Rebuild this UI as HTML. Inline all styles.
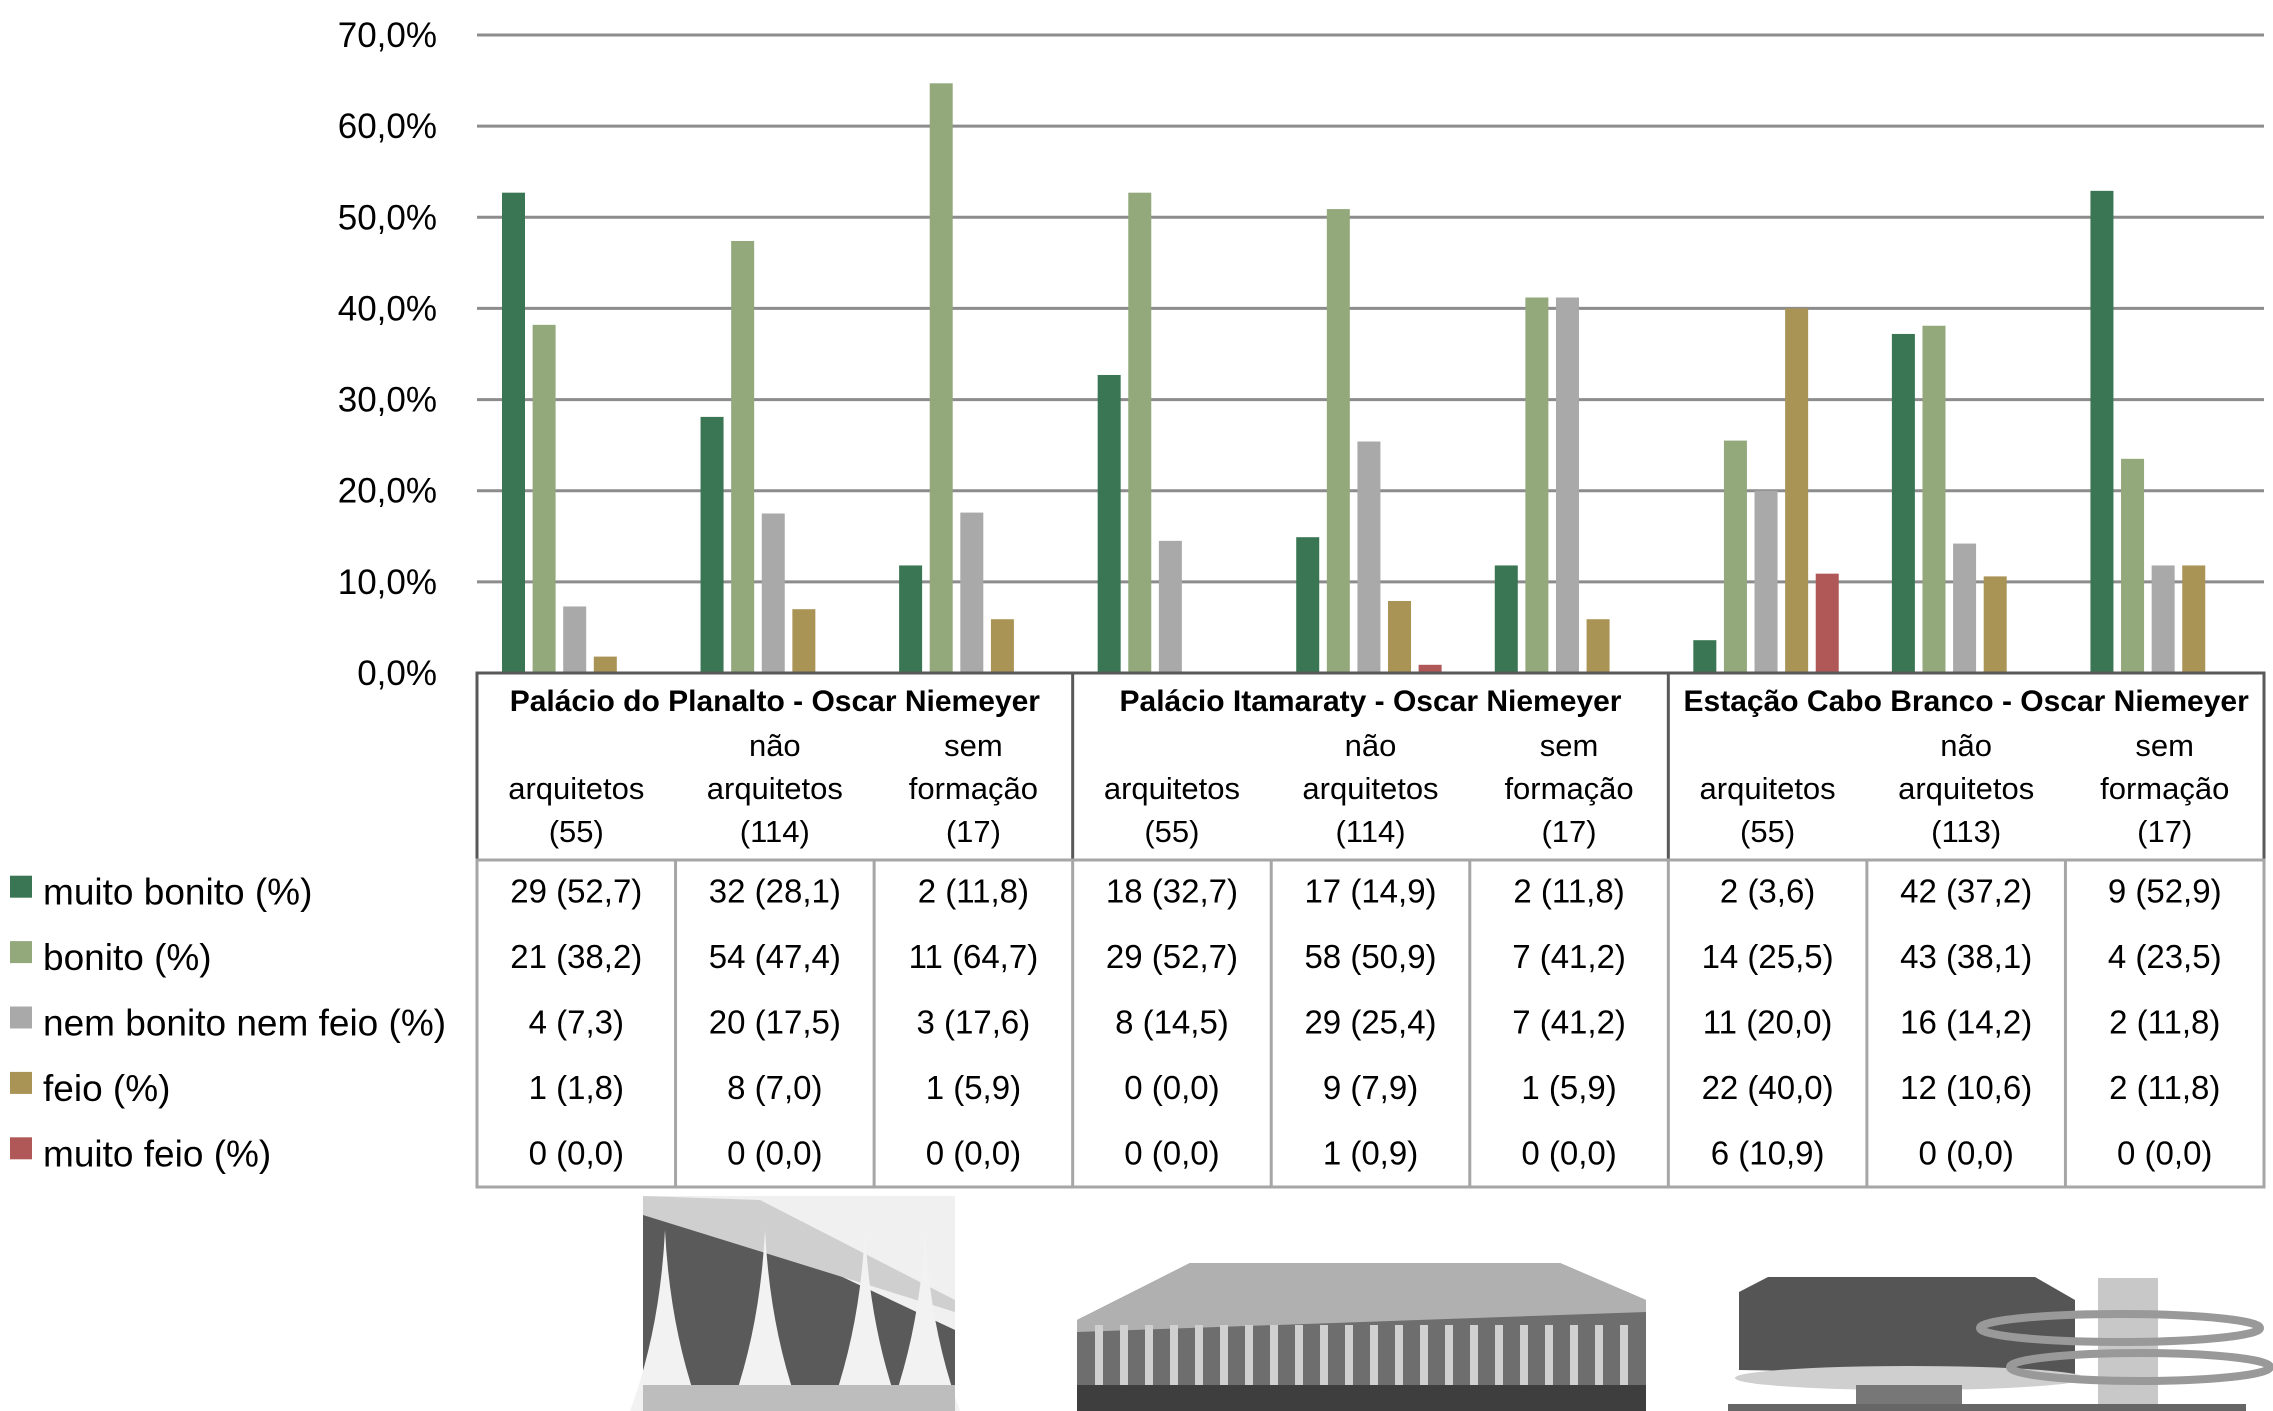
<!DOCTYPE html>
<html><head><meta charset="utf-8"><style>
body{margin:0;background:#fff;width:2273px;height:1411px;overflow:hidden;font-family:"Liberation Sans",sans-serif}
svg{display:block}
</style></head><body>
<svg id="c" width="2273" height="1411" xmlns="http://www.w3.org/2000/svg"></svg>
<script>
const groups=["Palácio do Planalto - Oscar Niemeyer","Palácio Itamaraty - Oscar Niemeyer","Estação Cabo Branco - Oscar Niemeyer"];
const subLabels=[["","arquitetos","(55)"],["não","arquitetos","(114)"],["sem","formação","(17)"],["","arquitetos","(55)"],["não","arquitetos","(114)"],["sem","formação","(17)"],["","arquitetos","(55)"],["não","arquitetos","(113)"],["sem","formação","(17)"]];
const seriesNames=["muito bonito (%)","bonito (%)","nem bonito nem feio (%)","feio (%)","muito feio (%)"];
const seriesColors=["#3b7654","#93a97b","#a9a9a9","#a99355","#b05757"];
const counts=[[29,32,2,18,17,2,2,42,9],[21,54,11,29,58,7,14,43,4],[4,20,3,8,29,7,11,16,2],[1,8,1,0,9,1,22,12,2],[0,0,0,0,1,0,6,0,0]];
const pct=[[52.7,28.1,11.8,32.7,14.9,11.8,3.6,37.2,52.9],[38.2,47.4,64.7,52.7,50.9,41.2,25.5,38.1,23.5],[7.3,17.5,17.6,14.5,25.4,41.2,20.0,14.2,11.8],[1.8,7.0,5.9,0.0,7.9,5.9,40.0,10.6,11.8],[0.0,0.0,0.0,0.0,0.9,0.0,10.9,0.0,0.0]];
const yTicks=[0,10,20,30,40,50,60,70];

const svg=document.getElementById('c');const NS="http://www.w3.org/2000/svg";
function mk(t,a,p){const e=document.createElementNS(NS,t);for(const k in a)e.setAttribute(k,a[k]);(p||svg).appendChild(e);return e;}
const L=477,R=2264,Y0=673,Y70=35,colW=(R-L)/9;
const y=v=>Y0-(Y0-Y70)*v/70;
const cx=i=>L+i*colW;
yTicks.forEach(t=>{
 if(t>0){const g=mk('line',{x1:L,x2:R,y1:y(t),y2:y(t),stroke:'#8c8c8c','stroke-width':3});
 }
 const tx=mk('text',{x:437,y:y(t)+12,'font-size':35,'text-anchor':'end',fill:'#000'});tx.textContent=t.toFixed(1).replace('.',',')+'%';
 
});
pct.forEach((s,si)=>s.forEach((v,ci)=>{
 if(v<=0)return;
 const b=mk('rect',{x:cx(ci)+25+si*30.6,y:y(v),width:23,height:Y0-y(v),fill:seriesColors[si]});
 
}));
const HT=673,HB=860,TB=1187;
mk('rect',{x:L,y:HT,width:R-L,height:HB-HT,fill:'none',stroke:'#595959','stroke-width':3});
[3,6].forEach(i=>mk('line',{x1:cx(i),x2:cx(i),y1:HT,y2:HB,stroke:'#595959','stroke-width':3}));
groups.forEach((g,gi)=>{const t=mk('text',{x:cx(gi*3)+colW*1.5,y:HT+38,'font-size':30,'font-weight':'bold','text-anchor':'middle'});t.textContent=g;
 });
subLabels.forEach((sl,ci)=>sl.forEach((s,li)=>{if(!s)return;const t=mk('text',{x:cx(ci)+colW/2,y:HT+83+li*43,'font-size':31,'text-anchor':'middle'});t.textContent=s;
 }));
mk('rect',{x:L,y:HB,width:R-L,height:TB-HB,fill:'none',stroke:'#a6a6a6','stroke-width':3});
for(let i=1;i<9;i++)mk('line',{x1:cx(i),x2:cx(i),y1:HB,y2:TB,stroke:'#a6a6a6','stroke-width':3});
const rowH=(TB-HB)/5;
counts.forEach((row,si)=>{
 const yc=HB+rowH*(si+0.5)+10;
 const sq=mk('rect',{x:10,y:yc-27,width:22,height:22,fill:seriesColors[si]});
 const lt=mk('text',{x:43,y:yc+2,'font-size':37});lt.textContent=seriesNames[si];
 row.forEach((c,ci)=>{const t=mk('text',{x:cx(ci)+colW/2,y:yc,'font-size':33,'text-anchor':'middle'});
  t.textContent=c+' ('+pct[si][ci].toFixed(1).replace('.',',')+')';
  });
});
const p1=mk('g',{});
mk('rect',{x:643,y:1196,width:312,height:215,fill:'#f0f0f0'},p1);
mk('polygon',{points:'643,1205 643,1411 955,1411 955,1330 700,1210',fill:'#5a5a5a'},p1);
mk('polygon',{points:'643,1196 760,1200 955,1300 955,1312 643,1215',fill:'#cfcfcf'},p1);
[660,760,860,920].forEach(x=>mk('path',{d:`M${x-30},1411 Q${x},1330 ${x+5},1230 Q${x+10},1330 ${x+40},1411 Z`,fill:'#f2f2f2'},p1));
mk('rect',{x:643,y:1385,width:312,height:26,fill:'#bdbdbd'},p1);
const p2=mk('g',{});
mk('polygon',{points:'1077,1320 1190,1263 1560,1263 1646,1300 1646,1411 1077,1411',fill:'#6e6e6e'},p2);
mk('polygon',{points:'1077,1320 1190,1263 1560,1263 1646,1300 1646,1312 1077,1332',fill:'#b0b0b0'},p2);
for(let i=0;i<22;i++)mk('rect',{x:1095+i*25,y:1325,width:8,height:60,fill:'#d0d0d0'},p2);
mk('rect',{x:1077,y:1385,width:569,height:26,fill:'#3e3e3e'},p2);
const p3=mk('g',{});
mk('polygon',{points:'1739,1292 1768,1277 2035,1277 2075,1300 2075,1375 1739,1370',fill:'#555'},p3);
mk('ellipse',{cx:1910,cy:1378,rx:175,ry:12,fill:'#cfcfcf'},p3);
mk('rect',{x:1856,y:1385,width:106,height:20,fill:'#777'},p3);
mk('rect',{x:2098,y:1278,width:60,height:130,fill:'#c8c8c8'},p3);
mk('ellipse',{cx:2120,cy:1328,rx:140,ry:14,fill:'none',stroke:'#999','stroke-width':8},p3);
mk('ellipse',{cx:2140,cy:1367,rx:130,ry:14,fill:'none',stroke:'#999','stroke-width':8},p3);
mk('rect',{x:1728,y:1404,width:518,height:7,fill:'#666'},p3);
</script>
</body></html>
